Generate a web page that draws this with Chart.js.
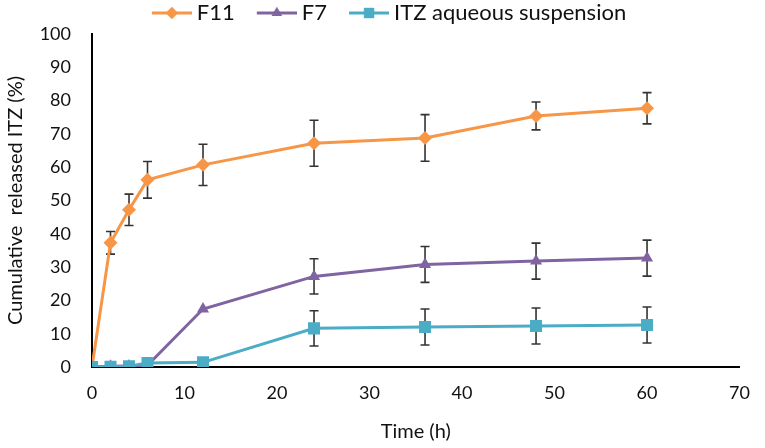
<!DOCTYPE html>
<html>
<head>
<meta charset="utf-8">
<script src="https://cdn.jsdelivr.net/npm/chart.js@4/dist/chart.umd.min.js"></script>
<style>
  html, body { margin: 0; padding: 0; background: #fff; }
  #wrap { width: 765px; height: 448px; }
</style>
</head>
<body>
<div id="wrap"><canvas id="chart"></canvas></div>
<script>
// time points (h)
const times = [0, 2, 4, 6, 12, 24, 36, 48, 60];

// cumulative release (%) and SD
const f11 = [0, 37.3, 47.2, 56.2, 60.7, 67.2, 68.8, 75.4, 77.7];
const f11Err = [0, 3.4, 4.7, 5.5, 6.2, 6.9, 7.0, 4.2, 4.7];

const f7 = [0, 0.2, 0.3, 0.5, 17.4, 27.2, 30.8, 31.8, 32.7];
const f7Err = [0, 0, 0, 0, 0, 5.3, 5.4, 5.4, 5.4];

const itz = [0, 0.1, 0.2, 1.2, 1.4, 11.6, 12.0, 12.3, 12.6];
const itzErr = [0, 0, 0, 0, 0, 5.3, 5.4, 5.4, 5.4];

const seriesNames = ['F11', 'F7', 'ITZ aqueous suspension'];
const colors = ['#F79646', '#8064A2', '#4BACC6'];
const markers = ['rectRot', 'triangle', 'rect'];
const radii = [7, 7, 8.5];

const FONT = 'Lato, "Open Sans", sans-serif';

function toPoints(ys, errs) {
  return ys.map((y, i) => ({ x: times[i], y: y, err: errs[i] }));
}

// legend swatch: short line with the marker, sitting on the right of the box
function legendIcon(color, style, r) {
  const c = document.createElement('canvas');
  c.width = 64; c.height = 20;
  const g = c.getContext('2d');
  g.strokeStyle = color;
  g.lineWidth = 3;
  g.beginPath(); g.moveTo(24, 10); g.lineTo(64, 10); g.stroke();
  g.fillStyle = color;
  Chart.helpers.drawPoint(g, { pointStyle: style, radius: r, rotation: 0, borderWidth: 0 }, 44, 10);
  g.fill();
  return c;
}

const errorBars = {
  id: 'errorBars',
  beforeDatasetsDraw(chart) {
    const ctx = chart.ctx;
    const xs = chart.scales.x, ys = chart.scales.y;
    ctx.save();
    ctx.strokeStyle = '#333';
    ctx.lineWidth = 1.6;
    chart.data.datasets.forEach(ds => {
      ds.data.forEach(p => {
        if (!p.err) return;
        const px = xs.getPixelForValue(p.x);
        const top = ys.getPixelForValue(p.y + p.err);
        const bot = ys.getPixelForValue(p.y - p.err);
        ctx.beginPath();
        ctx.moveTo(px, top); ctx.lineTo(px, bot);
        ctx.moveTo(px - 4.5, top); ctx.lineTo(px + 4.5, top);
        ctx.moveTo(px - 4.5, bot); ctx.lineTo(px + 4.5, bot);
        ctx.stroke();
      });
    });
    ctx.restore();
  }
};

const allData = [toPoints(f11, f11Err), toPoints(f7, f7Err), toPoints(itz, itzErr)];
const datasets = seriesNames.map((name, i) => ({
  label: name,
  data: allData[i],
  borderColor: colors[i],
  backgroundColor: colors[i],
  borderWidth: 3,
  pointStyle: markers[i],
  pointRadius: radii[i],
  pointBorderWidth: 0,
  tension: 0,
  order: 2 - i
}));

new Chart(document.getElementById('chart'), {
  type: 'line',
  data: { datasets: datasets },
  options: {
    responsive: true,
    maintainAspectRatio: false,
    animation: false,
    layout: { padding: { top: -2, right: 9, bottom: 0, left: 4 } },
    plugins: {
      tooltip: { enabled: false },
      legend: {
        position: 'top',
        labels: {
          usePointStyle: true,
          pointStyleWidth: 52,
          boxHeight: 20,
          padding: 4,
          color: '#111',
          font: { family: FONT, size: 22 },
          generateLabels(chart) {
            return chart.data.datasets.map((ds, i) => ({
              text: ds.label,
              fillStyle: colors[i],
              strokeStyle: colors[i],
              lineWidth: 0,
              pointStyle: legendIcon(colors[i], markers[i], radii[i] * 0.85),
              datasetIndex: i,
              fontColor: '#111'
            }));
          }
        }
      }
    },
    scales: {
      x: {
        type: 'linear',
        min: 0, max: 70,
        afterFit(scale) { scale.height = 81; },
        ticks: { stepSize: 10, color: '#111', padding: 15, font: { family: FONT, size: 18 } },
        grid: { display: false, drawTicks: false },
        border: { display: true, color: '#000', width: 2 },
        title: { display: true, text: 'Time (h)', color: '#111', font: { family: FONT, size: 20 }, padding: { top: 4, bottom: 4 } }
      },
      y: {
        min: 0, max: 100,
        afterFit(scale) { scale.width = 88; },
        ticks: { stepSize: 10, color: '#111', padding: 21, font: { family: FONT, size: 18 } },
        grid: { display: false, drawTicks: false },
        border: { display: true, color: '#000', width: 2 },
        title: { display: true, text: 'Cumulative  released ITZ (%)', color: '#111', font: { family: FONT, size: 20 }, padding: { top: 0, bottom: 2 } }
      }
    }
  },
  plugins: [errorBars]
});
</script>
</body>
</html>
